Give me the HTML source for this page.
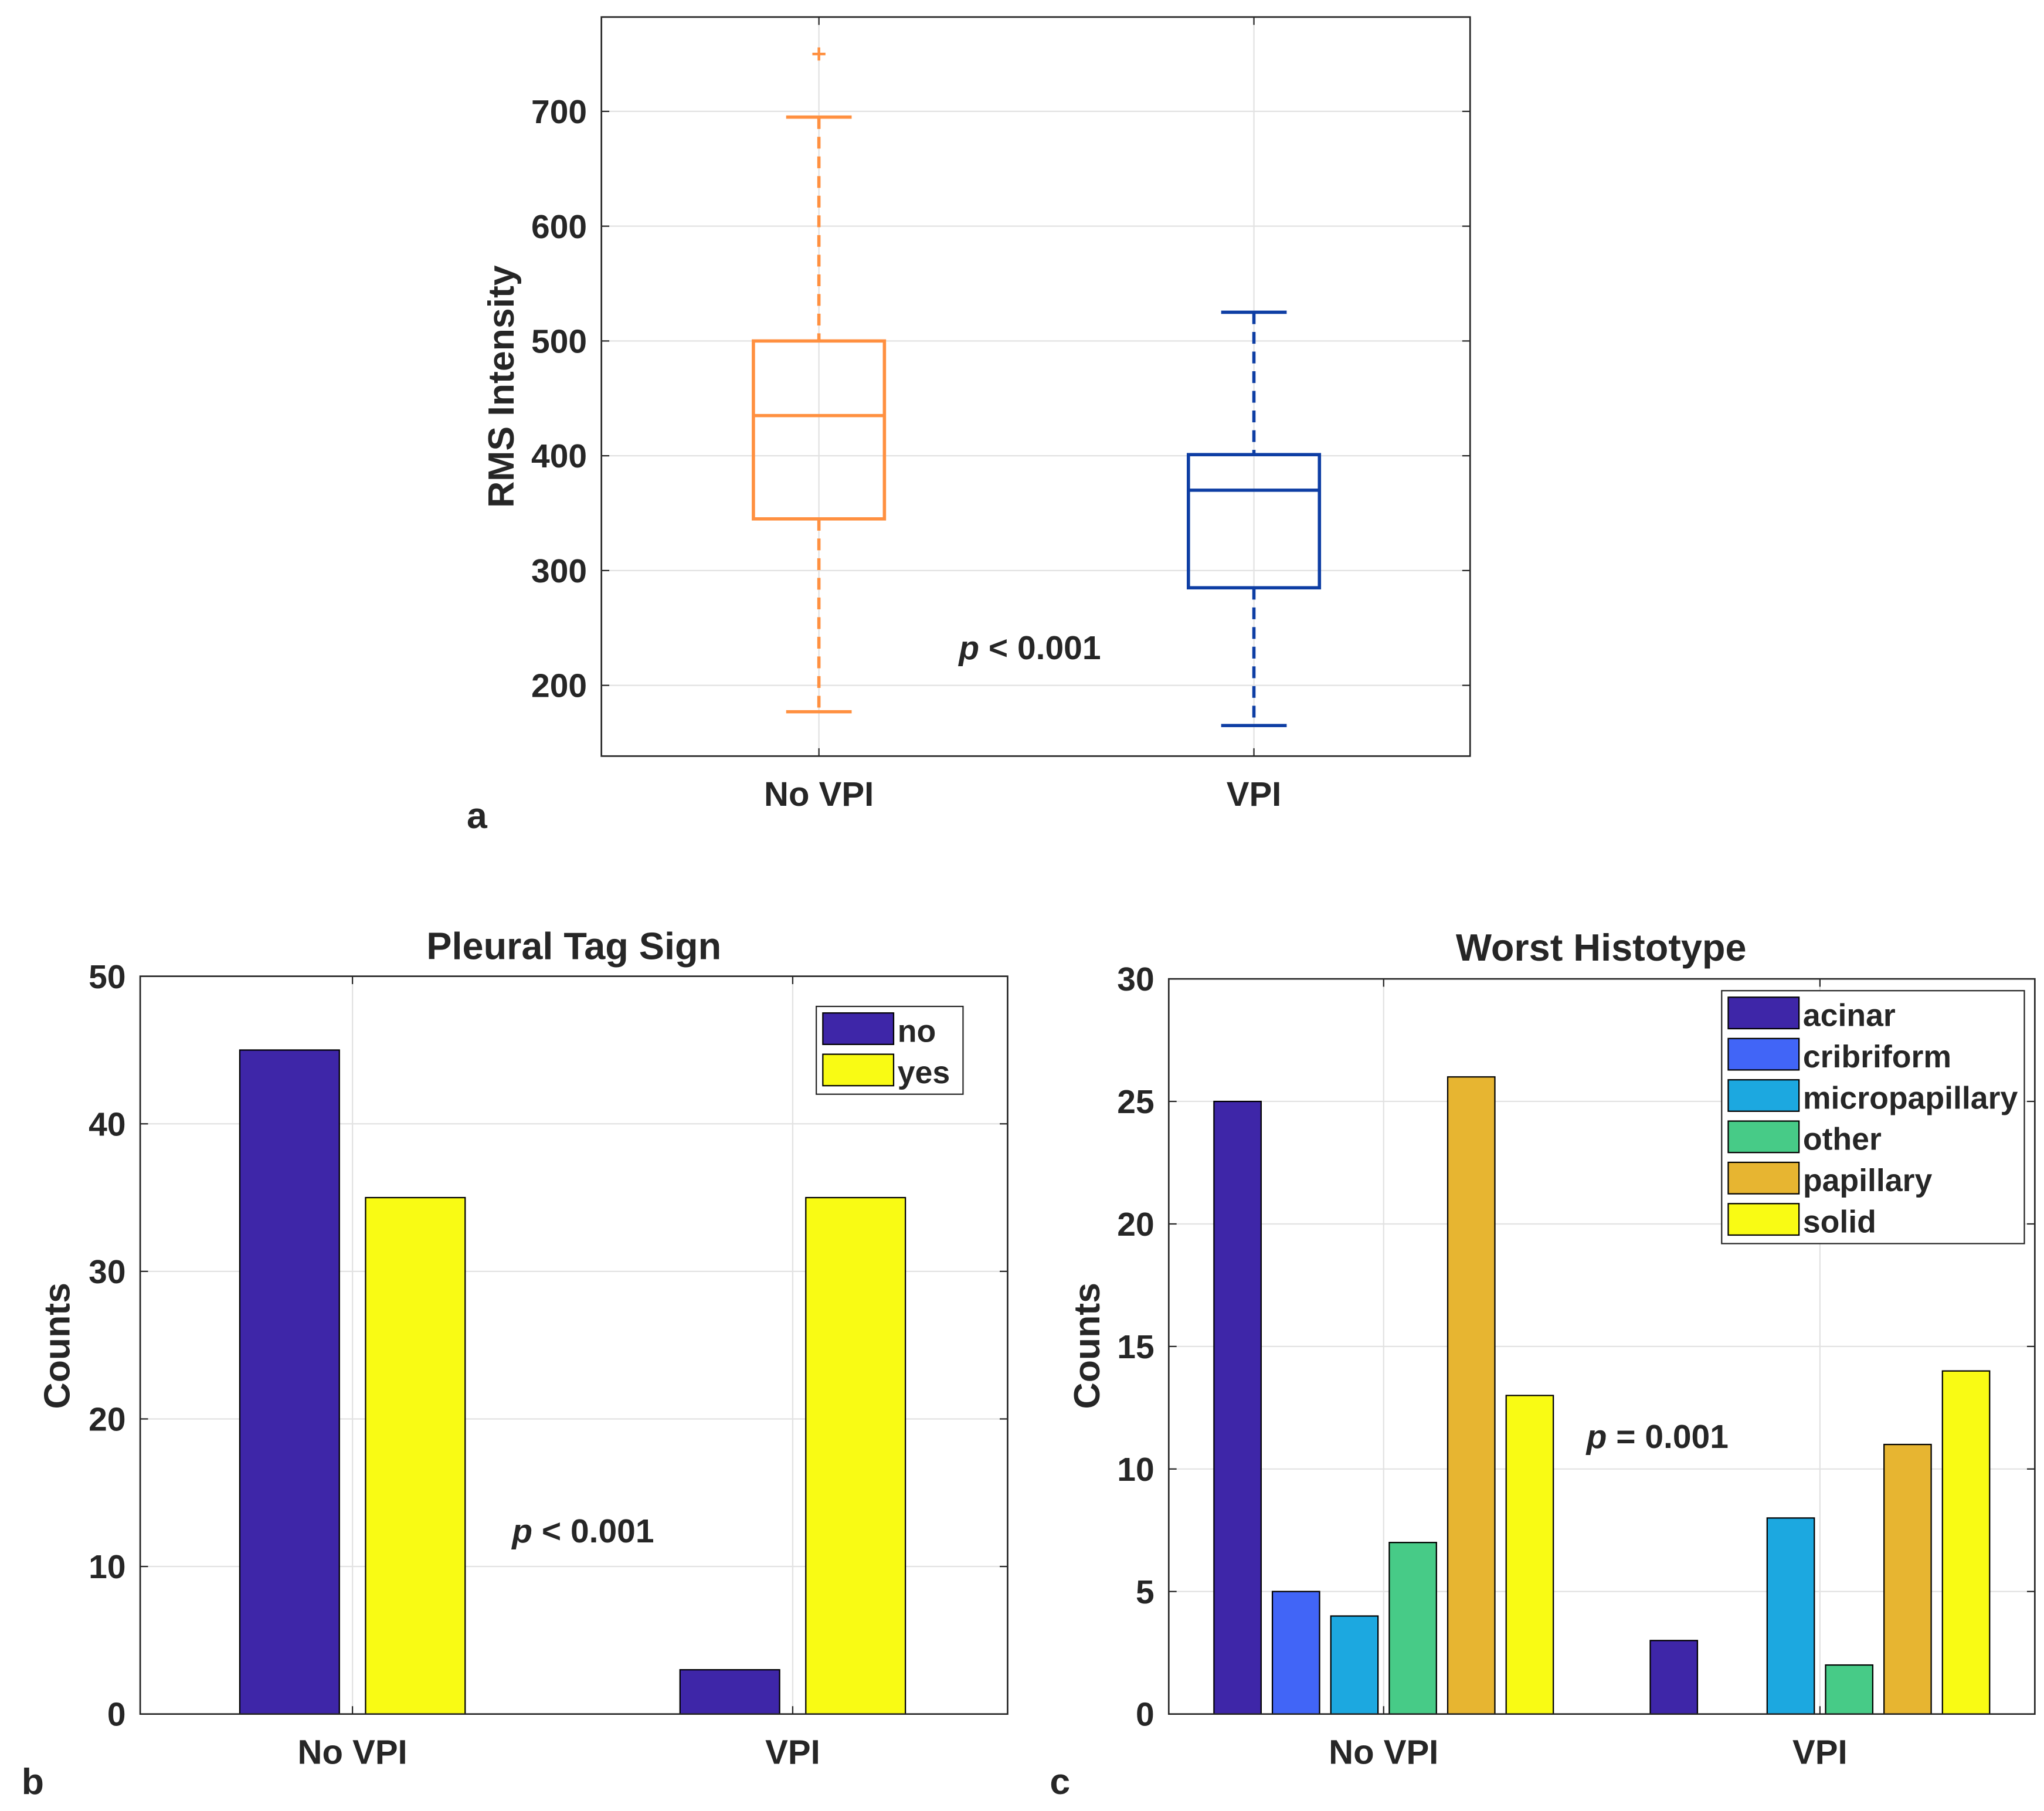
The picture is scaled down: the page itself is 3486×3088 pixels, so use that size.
<!DOCTYPE html>
<html><head><meta charset="utf-8"><style>
html,body{margin:0;padding:0;background:#fff}
svg{display:block}
text{font-family:"Liberation Sans",Arial,sans-serif;font-weight:bold;fill:#262626}
</style></head><body>
<svg id="fig" width="3486" height="3088" viewBox="0 0 1560 1382" preserveAspectRatio="none" xmlns="http://www.w3.org/2000/svg"></svg>
<script>
// ---- Panel a: boxplot data ----
const boxGroups = ["No VPI", "VPI"];
const boxWhiskerHigh = [695, 525];
const boxQ3 = [500, 401];
const boxMedian = [435, 370];
const boxQ1 = [345, 285];
const boxWhiskerLow = [177, 165];
const boxOutliers = [[750], []];
const boxYTicks = [200, 300, 400, 500, 600, 700];
const boxColors = ["#ff9040", "#0e3ea4"];
// ---- Panel b: pleural tag ----
const tagGroups = ["No VPI", "VPI"];
const tagSeries = ["no", "yes"];
const tagNo = [45, 3];
const tagYes = [35, 35];
const tagYTicks = [0, 10, 20, 30, 40, 50];
// ---- Panel c: histotype ----
const histGroups = ["No VPI", "VPI"];
const histSeries = ["acinar", "cribriform", "micropapillary", "other", "papillary", "solid"];
const histAcinar = [25, 3];
const histCribriform = [5, 0];
const histMicropapillary = [4, 8];
const histOther = [7, 2];
const histPapillary = [26, 11];
const histSolid = [13, 14];
const histYTicks = [0, 5, 10, 15, 20, 25, 30];

const svg = document.getElementById('fig');
const NS = "http://www.w3.org/2000/svg";
function el(tag, attrs, parent) {
  const e = document.createElementNS(NS, tag);
  for (const k in attrs) e.setAttribute(k, attrs[k]);
  (parent || svg).appendChild(e);
  return e;
}
function txt(s, x, y, size, anchor, parent, extra) {
  const t = el('text', Object.assign({x: x, y: y, 'font-size': size, 'text-anchor': anchor || 'middle'}, extra || {}), parent);
  t.textContent = s;
  return t;
}
function axesFrame(g, x0, y0, x1, y1, ticks, ys, xCenters, xlabels) {
  ticks.forEach(v => {
    const y = ys(v);
    const gl = el('line', {x1: x0, x2: x1, y1: y, y2: y, stroke: '#e2e2e2', 'stroke-width': 1}, g);
    
    
    el('line', {x1: x0, x2: x0 + 6, y1: y, y2: y, stroke: '#262626'}, g);
    el('line', {x1: x1, x2: x1 - 6, y1: y, y2: y, stroke: '#262626'}, g);
    const t = txt(String(v), x0 - 11, y + 9, 25.5, 'end', g);
    
    
  });
  xCenters.forEach((cx, i) => {
    el('line', {x1: cx, x2: cx, y1: y0, y2: y1, stroke: '#e2e2e2'}, g);
    el('line', {x1: cx, x2: cx, y1: y1, y2: y1 - 6, stroke: '#262626'}, g);
    el('line', {x1: cx, x2: cx, y1: y0, y2: y0 + 6, stroke: '#262626'}, g);
    const t = txt(xlabels[i], cx, y1 + 38, 26, 'middle', g);
    
    
  });
}

// ===== Panel a =====
(function () {
  const g = el('g', {});
  
  
  const x0 = 459, x1 = 1122, y0 = 13, y1 = 577;
  const ys = v => 523 - (v - 200) * 0.876;
  const xc = [625, 957];
  axesFrame(g, x0, y0, x1, y1, boxYTicks, ys, xc, boxGroups);
  boxGroups.forEach((name, i) => {
    const c = boxColors[i], cx = xc[i], hw = 50, cw = 25;
    const bg = el('g', {}, g);
    
    
    el('line', {x1: cx, x2: cx, y1: ys(boxWhiskerHigh[i]), y2: ys(boxQ3[i]), stroke: c, 'stroke-width': 2.5, 'stroke-dasharray': '9,6'}, bg);
    el('line', {x1: cx, x2: cx, y1: ys(boxQ1[i]), y2: ys(boxWhiskerLow[i]), stroke: c, 'stroke-width': 2.5, 'stroke-dasharray': '9,6'}, bg);
    el('line', {x1: cx - cw, x2: cx + cw, y1: ys(boxWhiskerHigh[i]), y2: ys(boxWhiskerHigh[i]), stroke: c, 'stroke-width': 2.5}, bg);
    el('line', {x1: cx - cw, x2: cx + cw, y1: ys(boxWhiskerLow[i]), y2: ys(boxWhiskerLow[i]), stroke: c, 'stroke-width': 2.5}, bg);
    el('rect', {x: cx - hw, y: ys(boxQ3[i]), width: 2 * hw, height: ys(boxQ1[i]) - ys(boxQ3[i]), fill: 'none', stroke: c, 'stroke-width': 2.5}, bg);
    el('line', {x1: cx - hw, x2: cx + hw, y1: ys(boxMedian[i]), y2: ys(boxMedian[i]), stroke: c, 'stroke-width': 2.5}, bg);
    boxOutliers[i].forEach(v => {
      const o = el('path', {d: `M${cx - 5},${ys(v)}h10M${cx},${ys(v) - 5}v10`, stroke: c, 'stroke-width': 2}, bg);
      
      
    });
  });
  const fr = el('rect', {x: x0, y: y0, width: x1 - x0, height: y1 - y0, fill: 'none', stroke: '#262626', 'stroke-width': 1.2}, g);
  
  
  const yl = txt('RMS Intensity', 0, 0, 28, 'middle', g, {transform: 'translate(392,295) rotate(-90)'});
  
  
  const p = el('text', {x: 786, y: 503, 'font-size': 25.5, 'text-anchor': 'middle'}, g);
  p.innerHTML = '<tspan font-style="italic">p</tspan> &lt; 0.001';
  
  
  const lab = txt('a', 364, 632, 28, 'middle', g);
  
  
})();

function legend(g, x, y, w, items, colors) {
  const lg = el('g', {}, g);
  
  
  const rh = 31.5;
  el('rect', {x: x, y: y, width: w, height: items.length * rh + 4, fill: '#fff', stroke: '#262626', 'stroke-width': 1}, lg);
  items.forEach((s, i) => {
    const e = el('g', {}, lg);
    
    
    el('rect', {x: x + 5, y: y + 5 + i * rh, width: 54, height: 24, fill: colors[i], stroke: '#000', 'stroke-width': 1}, e);
    txt(s, x + 62, y + 27 + i * rh, 24, 'start', e);
  });
}

// ===== Panel b =====
(function () {
  const g = el('g', {});
  
  
  const x0 = 107, x1 = 769, y0 = 745, y1 = 1308;
  const ys = v => y1 - v * (y1 - y0) / 50;
  const xc = [269, 605];
  axesFrame(g, x0, y0, x1, y1, tagYTicks, ys, xc, tagGroups);
  const colors = ['#3e26a8', '#f9fb14'];
  const data = [tagNo, tagYes];
  const bw = 76, off = [-48, 48];
  xc.forEach((cx, i) => {
    data.forEach((arr, s) => {
      const r = el('rect', {x: cx + off[s] - bw / 2, y: ys(arr[i]), width: bw, height: ys(0) - ys(arr[i]), fill: colors[s], stroke: '#000', 'stroke-width': 1}, g);
      
      
    });
  });
  const fr = el('rect', {x: x0, y: y0, width: x1 - x0, height: y1 - y0, fill: 'none', stroke: '#262626', 'stroke-width': 1.2}, g);
  
  
  legend(g, 623, 768, 112, tagSeries, colors);
  const t = txt('Pleural Tag Sign', 438, 732, 29, 'middle', g);
  
  
  const yl = txt('Counts', 0, 0, 28, 'middle', g, {transform: 'translate(53,1027) rotate(-90)'});
  
  
  const p = el('text', {x: 445, y: 1177, 'font-size': 25.5, 'text-anchor': 'middle'}, g);
  p.innerHTML = '<tspan font-style="italic">p</tspan> &lt; 0.001';
  
  
  const lab = txt('b', 25, 1369, 28, 'middle', g);
  
  
})();

// ===== Panel c =====
(function () {
  const g = el('g', {});
  
  
  const x0 = 892, x1 = 1553, y0 = 747, y1 = 1308;
  const ys = v => y1 - v * (y1 - y0) / 30;
  const xc = [1056, 1389];
  axesFrame(g, x0, y0, x1, y1, histYTicks, ys, xc, histGroups);
  const colors = ['#3e26a8', '#4165f7', '#1ca8e0', '#47cb87', '#e7b531', '#f9fb14'];
  const data = [histAcinar, histCribriform, histMicropapillary, histOther, histPapillary, histSolid];
  const bw = 36, step = 44.6;
  xc.forEach((cx, i) => {
    data.forEach((arr, s) => {
      if (arr[i] <= 0) return;
      const bx = cx + (s - 2.5) * step - bw / 2;
      const r = el('rect', {x: bx, y: ys(arr[i]), width: bw, height: ys(0) - ys(arr[i]), fill: colors[s], stroke: '#000', 'stroke-width': 1}, g);
      
      
    });
  });
  const fr = el('rect', {x: x0, y: y0, width: x1 - x0, height: y1 - y0, fill: 'none', stroke: '#262626', 'stroke-width': 1.2}, g);
  
  
  legend(g, 1314, 756, 231, histSeries, colors);
  const t = txt('Worst Histotype', 1222, 733, 29, 'middle', g);
  
  
  const yl = txt('Counts', 0, 0, 28, 'middle', g, {transform: 'translate(839,1027) rotate(-90)'});
  
  
  const p = el('text', {x: 1265, y: 1105, 'font-size': 25.5, 'text-anchor': 'middle'}, g);
  p.innerHTML = '<tspan font-style="italic">p</tspan> = 0.001';
  
  
  const lab = txt('c', 809, 1369, 28, 'middle', g);
  
  
})();
</script>
</body></html>
